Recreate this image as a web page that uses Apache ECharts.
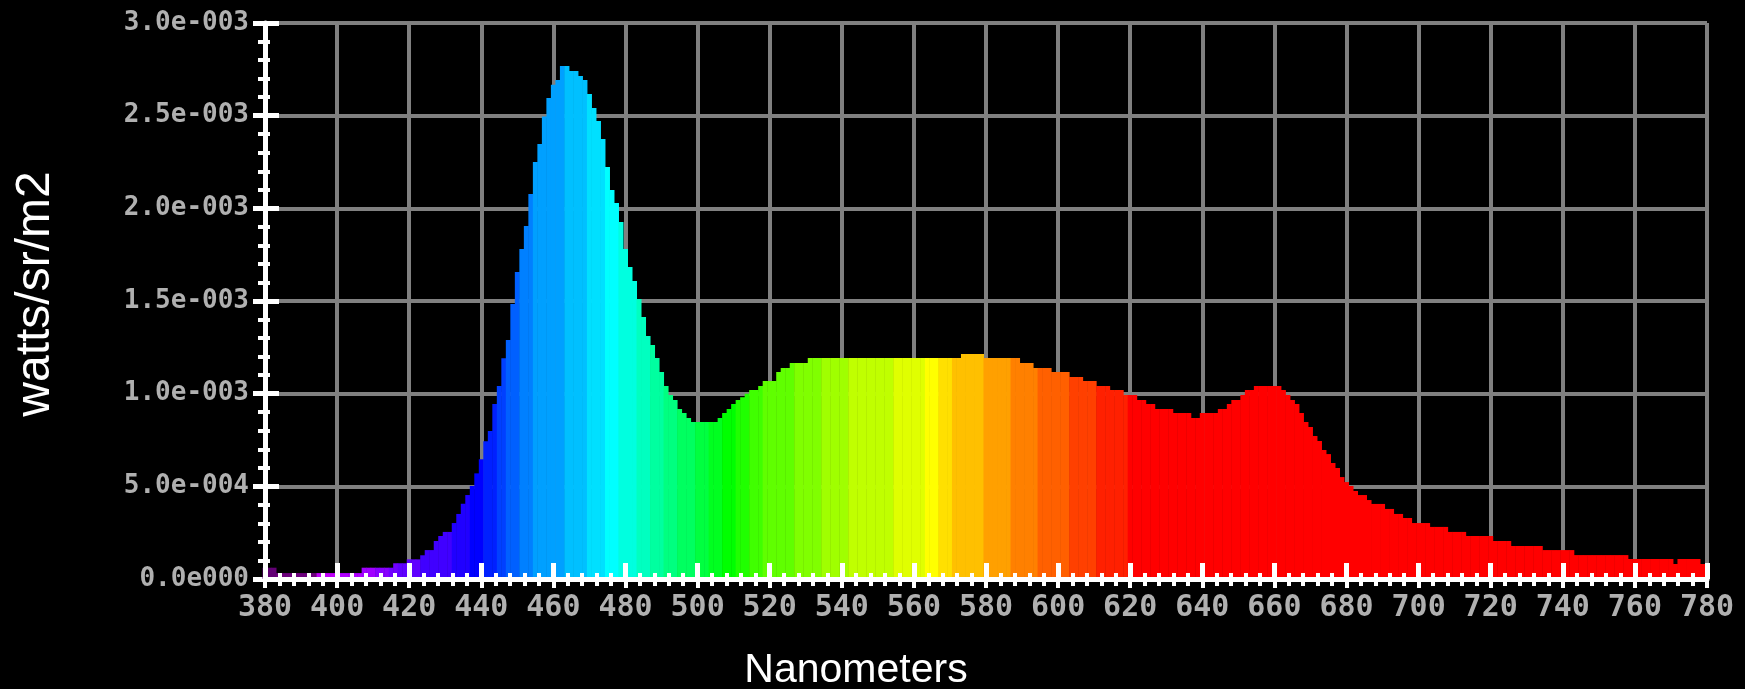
<!DOCTYPE html>
<html>
<head>
<meta charset="utf-8">
<script src="https://cdn.jsdelivr.net/npm/echarts@6/dist/echarts.min.js"></script>
<style>
html,body{margin:0;padding:0;background:#000;}
#chart{width:1745px;height:689px;}
</style>
</head>
<body>
<div id="chart"></div>
<script>
// ---- data (radiance in units of 1e-3 watts/sr/m2), one sample every 1.25 nm from 380 nm ----
const startNm = 380;
const stepNm = 1.25;
const xTickLabels = [380,400,420,440,460,480,500,520,540,560,580,600,620,640,660,680,700,720,740,760,780];
const yTickValues = [0,0.5,1.0,1.5,2.0,2.5,3.0];

const r380_440 = [0.061,0.061,0.061,
  0.032,0.032,0.032,0.032,0.032,0.032,0.032,0.032,0.032,0.032,0.032,0.032,0.032,0.032,0.032,0.032,0.032,0.032,0.032,
  0.061,0.061,0.061,0.061,0.061,0.061,0.061,
  0.085,0.085,0.085,0.106,0.106,0.106,0.128,0.156,0.156,0.205,0.232,0.254,0.254,
  0.302,0.351,0.406,0.453,0.502,0.570];
const r440_500 = [0.646,0.743,0.799,0.944,1.041,1.191,1.290,1.484,1.656,1.781,1.905,2.077,
  2.250,2.347,2.495,2.595,2.667,2.692,2.768,2.768,2.741,2.741,2.714,2.692,
  2.617,2.541,2.471,2.374,2.223,2.099,2.029,1.926,1.781,1.683,1.608,1.511,
  1.414,1.311,1.263,1.192,1.117,1.041,0.993,0.966,0.917,0.896,0.869,0.847];
const r500_560 = [0.847,0.847,0.847,0.847,0.847,0.869,0.896,0.917,0.944,0.966,0.980,1.000,
  1.020,1.020,1.041,1.068,1.068,1.068,1.117,1.138,1.138,1.165,1.165,1.165,1.165,
  1.192,1.192,1.192,1.192,1.192,1.192,1.192,1.192,1.192,1.192,1.192,1.192,
  1.192,1.192,1.192,1.192,1.192,1.192,1.192,1.192,1.192,1.192,1.192];
const r560_620 = [1.192,1.192,1.192,1.192,1.192,1.192,1.192,1.192,1.192,1.192,1.192,
  1.214,1.214,1.214,1.214,1.214,
  1.192,1.192,1.192,1.192,1.192,1.192,1.192,1.192,
  1.165,1.165,1.165,1.138,1.138,1.138,1.138,1.117,1.117,1.117,1.117,
  1.090,1.090,1.090,1.068,1.068,1.068,1.041,1.041,1.041,1.020,1.020,1.020,0.993];
const r620_680 = [0.993,0.993,0.966,0.966,0.944,0.944,0.917,0.917,0.917,0.917,
  0.896,0.896,0.896,0.896,0.869,0.869,0.896,0.896,0.896,0.896,0.917,0.917,0.944,
  0.966,0.966,0.993,1.020,1.020,1.041,1.041,1.041,1.041,1.041,1.041,1.020,0.993,
  0.966,0.944,0.896,0.847,0.820,0.772,0.745,0.696,0.674,0.626,0.599,0.550];
const r680_740 = [0.523,0.502,0.475,0.453,0.453,0.426,0.405,0.405,0.405,0.378,0.378,
  0.351,0.351,0.329,0.329,0.302,0.302,0.302,0.302,0.281,0.281,0.281,0.281,
  0.254,0.254,0.254,0.254,0.232,0.232,0.232,0.232,0.232,0.232,
  0.205,0.205,0.205,0.205,0.178,0.178,0.178,0.178,0.178,0.178,0.178,
  0.156,0.156,0.156,0.156];
const r740_780 = [0.156,0.156,0.156,
  0.129,0.129,0.129,0.129,0.129,0.129,0.129,0.129,0.129,0.129,0.129,0.129,
  0.108,0.108,0.108,0.108,0.108,0.108,0.108,0.108,0.108,0.108,
  0.081,0.108,0.108,0.108,0.108,0.108,0.081,0.081];

const radiance = [].concat(r380_440, r440_500, r500_560, r560_620, r620_680, r680_740, r740_780);
const wavelengths = radiance.map((_, k) => startNm + stepNm * k);

// ---- style: spectral colour bands (start nm -> colour) ----
const colorStops = [
  [380,'#620074'],[383.5,'#6c007c'],[395,'#c000f8'],[400,'#b000ff'],[406.5,'#a000ff'],
  [410.5,'#8800ff'],[414,'#7000ff'],[416.5,'#6000ff'],[423,'#4000ff'],[432.5,'#2000ff'],
  [436.5,'#0000ff'],[440.5,'#0020ff'],[444.5,'#0040ff'],[447.5,'#0060ff'],[451,'#0080ff'],
  [454.5,'#00a0ff'],[463.5,'#00c0ff'],[469.9,'#00e0ff'],[474,'#00ffff'],[478.5,'#00ffe0'],
  [483,'#00ffc0'],[487,'#00ffa0'],[491,'#00ff80'],[495,'#00ff60'],[499,'#00ff40'],
  [503.5,'#00ff20'],[507.5,'#00ff00'],[511,'#20ff00'],[514.5,'#40ff00'],[518.5,'#60ff00'],
  [527,'#80ff00'],[535,'#a0ff00'],[542.5,'#c0ff00'],[555,'#e0ff00'],[563,'#ffff00'],
  [566.5,'#ffe000'],[570.5,'#ffc000'],[579.5,'#ffa000'],[587,'#ff8000'],[594.5,'#ff6000'],
  [603,'#ff4000'],[611,'#ff2000'],[620,'#ff0000']
];
function spectrumColor(nm) {
  let c = colorStops[0][1];
  for (const s of colorStops) { if (nm >= s[0] - 1e-6) c = s[1]; }
  return c;
}

function sciLabel(v) {
  const w = v * 1e-3;
  if (Math.abs(w) < 1e-12) return '0.0e000';
  let e = Math.floor(Math.log10(w) + 1e-9);
  const m = w / Math.pow(10, e);
  const es = String(Math.abs(e)).padStart(3, '0');
  return m.toFixed(1) + 'e' + (e < 0 ? '-' : '+') + es;
}

const white = '#ffffff';
const labelGrey = '#b0b0b0';
const monoFont = '"DejaVu Sans Mono", "Liberation Mono", monospace';
const sansFont = '"Liberation Sans", Arial, sans-serif';

const chart = echarts.init(document.getElementById('chart'), null, {renderer: 'canvas'});
const xMin = xTickLabels[0], xMax = xTickLabels[xTickLabels.length - 1];
const yMin = yTickValues[0], yMax = yTickValues[yTickValues.length - 1];

const option = {
  backgroundColor: '#000000',
  animation: false,
  grid: {left: 265, right: 38, top: 23, bottom: 110, containLabel: false},
  xAxis: [
    {
      type: 'value', min: xMin, max: xMax, interval: 20, position: 'bottom', z: 0,
      axisLine: {show: false, onZero: false},
      axisTick: {show: true, length: 9, lineStyle: {color: white, width: 4}},
      minorTick: {show: true, splitNumber: 5, length: 7, lineStyle: {color: white, width: 4}},
      splitLine: {show: true, lineStyle: {color: '#808080', width: 4}},
      axisLabel: {show: true, margin: 14, color: labelGrey, fontFamily: monoFont, fontWeight: 'bold', fontSize: 30,
        formatter: v => String(v)}
    },
    {
      type: 'value', min: xMin, max: xMax, interval: 20, position: 'bottom', z: 10,
      axisLine: {show: true, onZero: false, lineStyle: {color: white, width: 5}},
      axisTick: {show: true, inside: true, length: 16, lineStyle: {color: white, width: 5}},
      minorTick: {show: true, splitNumber: 5, length: 6, lineStyle: {color: white, width: 4}},
      splitLine: {show: false},
      axisLabel: {show: false}
    }
  ],
  yAxis: [
    {
      type: 'value', min: yMin, max: yMax, interval: 0.5, position: 'left', z: 0,
      axisLine: {show: false, onZero: false},
      axisTick: {show: true, length: 12, lineStyle: {color: white, width: 5}},
      minorTick: {show: true, splitNumber: 5, length: 7, lineStyle: {color: white, width: 4}},
      splitLine: {show: true, lineStyle: {color: '#808080', width: 4}},
      axisLabel: {show: true, margin: 16, color: labelGrey, fontFamily: monoFont, fontWeight: 'bold', fontSize: 26,
        formatter: sciLabel}
    },
    {
      type: 'value', min: yMin, max: yMax, interval: 0.5, position: 'left', z: 10,
      axisLine: {show: true, onZero: false, lineStyle: {color: white, width: 5}},
      axisTick: {show: true, inside: true, length: 14, lineStyle: {color: white, width: 5}},
      minorTick: {show: true, splitNumber: 5, length: 5, lineStyle: {color: white, width: 4}},
      splitLine: {show: false},
      axisLabel: {show: false}
    }
  ],
  series: [{
    type: 'bar',
    xAxisIndex: 0, yAxisIndex: 0,
    silent: true,
    clip: true,
    barWidth: 5,
    data: wavelengths.map((w, k) => [w, radiance[k]]),
    itemStyle: {color: p => spectrumColor(p.value[0])}
  }],
  graphic: [
    {type: 'text', x: 856, y: 671, silent: true,
     style: {text: 'Nanometers', fill: white, fontFamily: sansFont, fontSize: 41, align: 'center', verticalAlign: 'middle'}},
    {type: 'text', x: 36, y: 294, rotation: Math.PI / 2, silent: true,
     style: {text: 'watts/sr/m2', fill: white, fontFamily: sansFont, fontSize: 48, align: 'center', verticalAlign: 'middle'}}
  ]
};
chart.setOption(option);
</script>
</body>
</html>
